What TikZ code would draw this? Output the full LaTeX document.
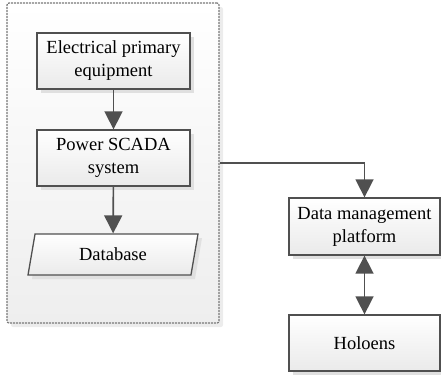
\documentclass[tikz,border=0pt]{standalone}
\usepackage{fontspec}
\setmainfont{Liberation Serif}
\usepackage{tikz}
\usetikzlibrary{arrows.meta,positioning,calc,shapes.geometric,shadows}
\definecolor{lineGray}{RGB}{80,80,80}
\definecolor{frameGray}{RGB}{120,120,120}
\definecolor{boxBottom}{RGB}{234,234,234}
\definecolor{frameBottom}{RGB}{238,238,238}
\definecolor{shadowGray}{RGB}{224,224,224}
\tikzset{
  softshadow/.style={general shadow={fill=shadowGray,shadow xshift=4pt,shadow yshift=-4pt}},
  flowbox/.style={draw=lineGray,line width=1.3pt,top color=white,bottom color=boxBottom,softshadow,
    minimum width=153pt,minimum height=56pt,align=center,inner sep=2pt,
    font=\fontsize{18.5}{23}\selectfont},
  dataslant/.style={flowbox,trapezium,trapezium left angle=67.5,trapezium right angle=112.5,
    trapezium stretches body,minimum width=170pt,minimum height=41pt},
  flowarrow/.style={draw=lineGray,line width=1.6pt,-{Triangle[length=18pt,width=18pt]}},
}
\begin{document}
\begin{tikzpicture}[x=1pt,y=-1pt]
  \useasboundingbox (0,0) rectangle (441,377);
  % dashed frame round the station side
  \node[draw=frameGray,dash pattern=on 2pt off 1pt,line width=1.2pt,rounded corners=2pt,
    top color=white,bottom color=frameBottom,
    general shadow={fill=shadowGray!60,shadow xshift=4pt,shadow yshift=-4pt},
    minimum width=212pt,minimum height=320pt] (frame) at (113,163) {};
  % boxes inside the frame
  \node[flowbox] (equip) at (113.5,61) {Electrical primary\\equipment};
  \node[flowbox] (scada) at (113.5,158) {Power SCADA\\system};
  \node[dataslant] (db) at (113,254.5) {Database};
  % boxes on the right
  \node[flowbox,minimum width=151pt,minimum height=57pt] (dmp) at (364.5,226.5) {Data management\\platform};
  \node[flowbox,minimum width=151pt] (holo) at (364.5,343) {Holoens};
  % connectors
  \draw[flowarrow] (equip) -- (scada);
  \draw[flowarrow] (scada) -- (db);
  \draw[flowarrow] (frame.east) -| (dmp.north);
  \draw[flowarrow,{Triangle[length=18pt,width=18pt]}-{Triangle[length=18pt,width=18pt]}] (dmp) -- (holo);
\end{tikzpicture}
\end{document}
